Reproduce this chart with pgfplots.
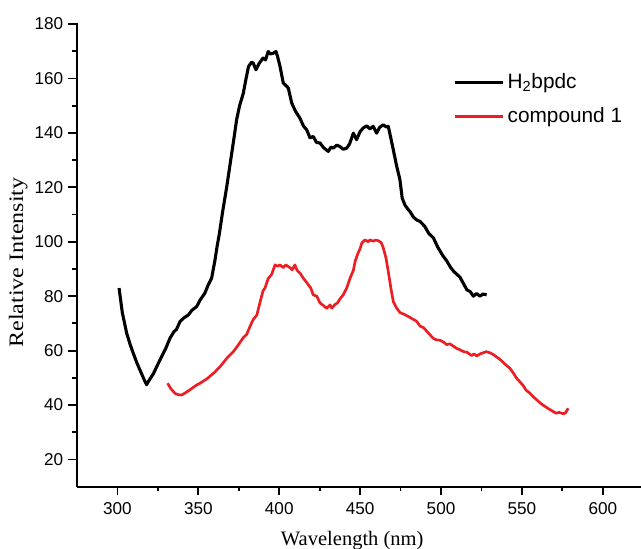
\documentclass[border=0pt]{standalone}
\usepackage{fontspec}
\setmainfont{Liberation Serif}
\setsansfont{Liberation Sans}
\usepackage{pgfplots}
\pgfplotsset{compat=1.18}
\definecolor{specred}{RGB}{236,30,36}

\begin{document}
\begin{tikzpicture}
\useasboundingbox (-1.925,-1.5575) rectangle (14.1,12.1675);
\begin{axis}[
 at={(0,0)},anchor=south west,
 scale only axis,width=14.1cm,height=11.6cm,
 xmin=275,xmax=623.6,ymin=10,ymax=180.5,
 axis lines*=left,
 axis line style={line width=1.6pt},
 tick align=outside,
 tick style={line width=1.3pt,black},
 major tick length=0.22cm,minor tick length=0.12cm,
 xtick={300,350,...,600},minor xtick={325,375,...,625},
 ytick={20,40,...,180},minor ytick={30,50,...,170},
 /pgf/number format/assume math mode=true,
 ticklabel style={font=\sffamily\fontsize{12.2}{14}\selectfont},
 xticklabel style={yshift=-0.05cm},
 xlabel={Wavelength (nm)},
 ylabel={\scalebox{1.17}[1]{Relative Intensity}},
 label style={font=\fontsize{14.6}{17}\selectfont},
 xlabel style={at={(axis description cs:0.488,0)},anchor=base,yshift=-1.47cm},
 ylabel style={at={(axis description cs:-0.104,0.483)},anchor=center},
 legend style={at={(axis description cs:0.660,0.903)},anchor=north west,draw=none,
   font=\sffamily\fontsize{14.8}{17}\selectfont,row sep=0.28cm,
   /tikz/every even column/.append style={column sep=0.12cm}},
 legend cell align=left,
 legend image code/.code={\draw[#1] (0cm,0cm) -- (1.2cm,0cm);},
]
\addplot[black,line width=2.2pt,line join=round] coordinates {
(301,83) (303,74) (305.7,66.4) (308,62) (309.8,59) (312,55.5) (313.9,52.9)
(316,50) (318,47.5) (320,49.5) (322.2,51.5) (325,55) (327.3,57.8) (330,61)
(332.5,64.6) (335,67) (336.5,67.8) (338.7,70.7) (341,72) (343.8,73.1)
(346,74.8) (349,76.2) (351,78.5) (354,81.1) (356,84) (358.2,86.6)
(360.3,93.3) (361.5,98) (363,103) (365,111) (367.5,120) (370,130) (372,138)
(373.7,145) (375.5,150) (377.8,154.6) (379.5,160) (381,164.4) (383,166)
(384,165.6) (385.6,163.2) (387.5,165.5) (390,167.5) (391.5,166.8)
(393.2,169.9) (394.5,169) (396.3,169.3) (398,169.9) (399,168) (400.5,164.4)
(402.5,158.3) (404,157.5) (405.6,156.5) (407.7,151) (410,148) (412.8,145.4)
(415,142.5) (417,141.1) (419,138.2) (421,138.7) (423,136.5) (425.2,136.3)
(427.5,134.5) (430.3,133.2) (432,134.8) (433.4,134.4) (435.5,135.5)
(437.5,135) (439.5,134) (441.7,134.4) (443.5,136) (445.8,139.9)
(447.8,137.5) (450,140.5) (451.9,141.8) (454,142.6) (456,141.5)
(458.1,142.4) (460.2,139.9) (462,142) (464.3,143) (466,142.2) (467.4,142.4)
(469,138) (470.5,133.8) (472.5,128) (474.6,122.8) (476,116) (477.7,113.5)
(479.5,112) (480.8,111.1) (483,109) (485,108) (487,107.5) (490,105.6)
(492.5,103) (495.2,101.5) (498,98) (501,95) (503.5,93) (506,90.5) (508,89)
(511.7,87) (514,84.5) (516,82.3) (518,81.7) (520,80) (522,81) (524,80)
(526,80.8) (528.2,80.5)
};
\addlegendentry{H\textsubscript{2}bpdc}
\addplot[specred,line width=1.9pt,line join=round] coordinates {
(331,48) (333,46) (335.6,44.3) (337.5,43.8) (339.7,43.7) (342,44.5)
(344.8,45.6) (346.9,46.5) (349,47.4) (351,48) (353,48.8) (355.2,49.6)
(357.2,50.6) (360,52) (363.4,54.1) (366,56) (368,57.5) (371.6,59.6)
(374,61.5) (377.8,64.8) (379.9,66) (382,69) (384,71.5) (386.1,73)
(388,77.5) (390,82) (391.2,83) (393.2,86.5) (395.3,88) (397.4,91.5)
(399,91) (400.5,91.5) (402.5,90.5) (404,91.5) (406.6,90.5) (408,89.7)
(409.7,91.5) (411,89.5) (412.8,88.5) (415,86.5) (417,85) (419.5,83)
(421,80.5) (423.2,80) (425.2,77.5) (427.5,76.5) (429.3,75.5) (431.4,76.8)
(432.5,75.6) (434.5,77) (436,77.5) (437.5,79) (439.6,80.5) (441.7,83)
(443.7,86.5) (445.8,89.5) (447,93) (448.5,95.5) (450,97.5) (451,99.5)
(453,100.7) (455,100) (456.1,100.7) (458,100.2) (459.5,100.6)
(461.2,100.4) (463,99.7) (464.3,97.8) (466,94) (467.4,89) (469,83)
(470.5,78) (472.6,75.6) (474.6,74) (477.7,73.2) (480.8,72.2) (482.5,71.6)
(484.9,70.8) (487,69) (489,68.5) (491.1,67.2) (493.2,65.8) (495.2,64.5)
(497,64) (499.3,63.8) (501.4,63.2) (503.5,62.2) (505.5,62.5) (507.5,61.7)
(509.7,60.8) (511.7,60.3) (514,59.6) (516,59.4) (518.9,58.2) (520.5,58.8)
(522,58) (524.1,58.8) (526,59.2) (528,59.6) (530.2,59.2) (532.5,58.5)
(534.5,57.6) (536.4,56.8) (539,55.3) (542.6,53.5) (545,51.5) (546.5,50)
(548.8,48.5) (551,47) (552.5,45.5) (555,44.3) (557,43) (559,42)
(561.2,40.8) (563.5,39.8) (566,38.8) (569.4,37.6) (571,37) (573,37.3)
(575.6,36.8) (577,37.2) (578.6,38.8)
};
\addlegendentry{compound 1}
\end{axis}
\end{tikzpicture}
\end{document}
